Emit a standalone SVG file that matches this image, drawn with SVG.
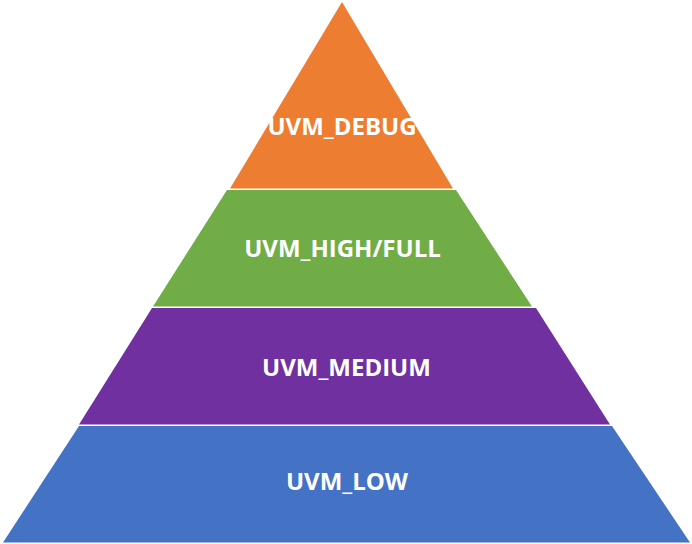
<svg xmlns="http://www.w3.org/2000/svg" width="692" height="544" viewBox="0 0 692 544">
<style>
.lbl{font-family:"Open Sans","Liberation Sans",sans-serif;font-weight:700;font-size:24px;fill:#ffffff;text-anchor:middle}
</style>
<rect width="692" height="544" fill="#ffffff"/>
<g id="debug">
<polygon points="342,2 453,188.5 230,188.5" fill="#ED7D31"/>
<text class="lbl" x="342" y="135">UVM_DEBUG</text>
</g>
<g id="high">
<polygon points="227,190 456,190 532,306.5 153,306.5" fill="#70AD47"/>
<text class="lbl" x="342.5" y="257">UVM_HIGH/FULL</text>
</g>
<g id="medium">
<polygon points="152,308 536,308 610,424.5 79,424.5" fill="#7030A0"/>
<text class="lbl" x="346.5" y="376">UVM_MEDIUM</text>
</g>
<g id="low">
<polygon points="79,426 612,426 690,542.5 3,542.5" fill="#4472C4"/>
<text class="lbl" x="347" y="490">UVM_LOW</text>
</g>
<g id="connectors"/>
</svg>
